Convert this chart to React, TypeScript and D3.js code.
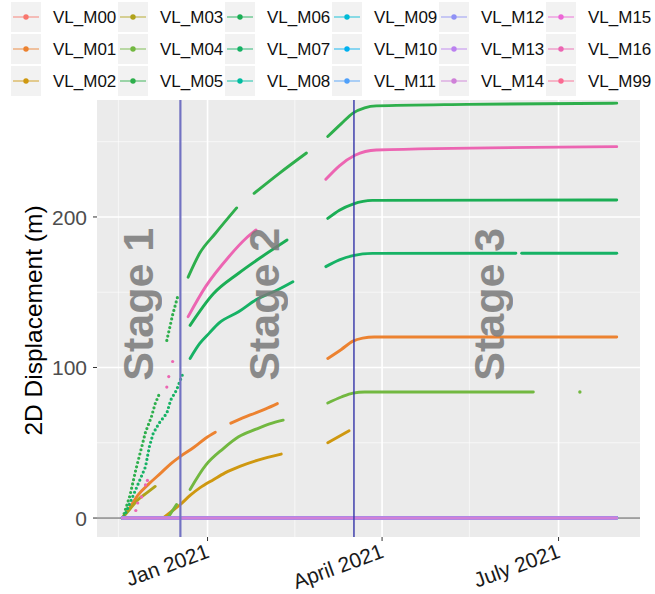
import React from "react";
import * as d3 from "d3";

type P = [string, number] | null;

// ---------- categories / labels ----------
const seriesNames = [
  "VL_M00", "VL_M01", "VL_M02", "VL_M03", "VL_M04", "VL_M05",
  "VL_M06", "VL_M07", "VL_M08", "VL_M09", "VL_M10", "VL_M11",
  "VL_M12", "VL_M13", "VL_M14", "VL_M15", "VL_M16", "VL_M99",
];
const seriesColors = [
  "#F8766D", "#EC8230", "#CF9810", "#B0A21A", "#72B840", "#2EAF4C",
  "#1BAE55", "#16B265", "#00BDA0", "#00BBD6", "#00B1F0", "#4FA0FA",
  "#8F91F5", "#BB80F0", "#CF80D8", "#EC66D6", "#EC65B2", "#FB6A92",
];
const xTickDates = ["2021-01-01", "2021-04-01", "2021-07-01"];
const xTickLabels = ["Jan 2021", "April 2021", "July 2021"];
const xMinorDates = ["2020-11-16", "2021-02-15", "2021-05-16"];
const yTicks = [0, 100, 200];
const yMinorTicks = [50, 150, 250];
const stageBoundaries = ["2020-12-18", "2021-03-17T12:00:00Z"];
const stageLabels = ["Stage 1", "Stage 2", "Stage 3"];
const stageLabelDates = ["2020-11-26", "2021-01-30", "2021-05-26"];
const stageLabelValue = 142;
const yTitle = "2D Displacement (m)";

// ---------- series values (null = gap) ----------
const vlM01: P[] = [
  ["2020-11-18", 0], ["2020-11-22", 7], ["2020-11-26", 15], ["2020-12-02", 23],
  ["2020-12-08", 30], ["2020-12-13", 36], ["2020-12-18", 41], ["2020-12-25", 47],
  ["2020-12-31", 53], ["2021-01-05", 57],
  null,
  ["2021-01-13", 63], ["2021-01-23", 68.5], ["2021-01-31", 72.5], ["2021-02-06", 76],
  null,
  ["2021-03-04", 106], ["2021-03-11", 112], ["2021-03-17", 117.5], ["2021-03-22", 119.5],
  ["2021-03-28", 120.3], ["2021-07-31", 120.3],
];
const vlM02: P[] = [
  ["2020-12-09", 0], ["2020-12-14", 5], ["2020-12-18", 9], ["2020-12-23", 15],
  ["2020-12-28", 20], ["2021-01-04", 25.5], ["2021-01-10", 30], ["2021-01-18", 34.5],
  ["2021-01-27", 38.5], ["2021-02-08", 42.5],
  null,
  ["2021-03-04", 50], ["2021-03-15", 58],
];
const vlM03: P[] = [
  ["2020-11-18", 0], ["2020-11-22", 6], ["2020-11-26", 12], ["2020-12-01", 17], ["2020-12-05", 21],
];
// curve levelling near 83
const vlM04: P[] = [
  ["2020-12-12", 1], ["2020-12-16", 9],
  null,
  ["2020-12-23", 19], ["2020-12-31", 35], ["2021-01-09", 46], ["2021-01-17", 54],
  ["2021-01-26", 59], ["2021-02-02", 62.5], ["2021-02-09", 65],
  null,
  ["2021-03-04", 76.4], ["2021-03-11", 80.4], ["2021-03-17", 83], ["2021-03-23", 83.7],
  ["2021-06-18", 83.7],
  null,
  ["2021-07-12", 83.7],
];
// top curve (Stage 1 steep part + later part)
const vlM05Early: P[] = [
  ["2020-11-19", 3], ["2020-11-22", 15], ["2020-11-25", 32], ["2020-11-28", 47],
  ["2020-11-30", 57], ["2020-12-03", 67], ["2020-12-05", 76], ["2020-12-07", 82],
  null,
  ["2020-12-11", 118], ["2020-12-14", 135], ["2020-12-17", 149],
];
const vlM05: P[] = [
  ["2020-12-22", 160], ["2020-12-28", 176], ["2021-01-05", 189], ["2021-01-16", 206],
  null,
  ["2021-01-25", 215.7], ["2021-02-07", 229], ["2021-02-21", 242.5],
  null,
  ["2021-03-04", 253.4], ["2021-03-11", 262], ["2021-03-17", 269], ["2021-03-23", 272.5],
  ["2021-03-29", 273.8], ["2021-05-15", 274.8], ["2021-07-31", 275.6],
];
// curve levelling near 210
const vlM06: P[] = [
  ["2020-12-23", 128], ["2021-01-04", 149], ["2021-01-17", 162.6], ["2021-01-29", 173.6],
  ["2021-02-11", 184.7],
  null,
  ["2021-03-04", 199], ["2021-03-10", 204.5], ["2021-03-17", 208.6], ["2021-03-27", 211],
  ["2021-07-31", 211.3],
];
// curve levelling near 175 (Stage 1 steep part + later part)
const vlM07Early: P[] = [
  ["2020-11-19", 1], ["2020-11-30", 34], ["2020-12-02", 47.4], ["2020-12-04", 56.3],
  ["2020-12-07", 63], ["2020-12-11", 69.6], ["2020-12-13", 78.4], ["2020-12-16", 85],
  ["2020-12-19", 95],
];
const vlM07: P[] = [
  ["2020-12-23", 106], ["2020-12-28", 116], ["2021-01-02", 123], ["2021-01-07", 129.6],
  ["2021-01-17", 137], ["2021-01-26", 145], ["2021-02-06", 151.5], ["2021-02-14", 157],
  null,
  ["2021-03-03", 167], ["2021-03-10", 171.5], ["2021-03-17", 174.3], ["2021-03-27", 175.8],
  ["2021-06-09", 175.9],
  null,
  ["2021-06-12", 175.9], ["2021-07-31", 175.9],
];
const vlM16Early: P[] = [
  ["2020-11-25", 5], ["2020-11-26", 10], ["2020-11-28", 14], ["2020-11-30", 22],
  ["2020-12-01", 25], ["2020-12-11", 87], ["2020-12-12", 94], ["2020-12-14", 104],
];
const vlM16: P[] = [
  ["2020-12-22", 133.8], ["2020-12-31", 153.7], ["2021-01-12", 173.6], ["2021-01-21", 186],
  ["2021-01-26", 191.4],
  null,
  ["2021-03-03", 225], ["2021-03-10", 234], ["2021-03-18", 241], ["2021-03-29", 244.5],
  ["2021-07-31", 246.7],
];
const zeroStations = ["VL_M00", "VL_M08", "VL_M09", "VL_M10", "VL_M11", "VL_M12", "VL_M13", "VL_M14"];
const zeroTrack: P[] = [["2020-11-18", 0], ["2021-07-31", 0]];

// tables built from the arrays above
const mainTracks: Record<string, P[]> = {
  VL_M01: vlM01, VL_M02: vlM02, VL_M03: vlM03, VL_M04: vlM04,
  VL_M05: vlM05, VL_M06: vlM06, VL_M07: vlM07, VL_M16: vlM16,
};
zeroStations.forEach((n) => (mainTracks[n] = zeroTrack));
const earlyTracks: Record<string, P[]> = { VL_M05: vlM05Early, VL_M07: vlM07Early };
const earlyDots: Record<string, P[]> = { VL_M16: vlM16Early };
const palette: Record<string, string> = {};
seriesNames.forEach((n, i) => (palette[n] = seriesColors[i]));

// ---------- helpers ----------
const parse = (s: string) => d3.isoParse(s.length === 10 ? s + "T00:00:00Z" : s) as Date;

function segments(pts: P[]): [Date, number][][] {
  const out: [Date, number][][] = [];
  let cur: [Date, number][] = [];
  for (const p of pts) {
    if (p === null) {
      if (cur.length) out.push(cur);
      cur = [];
    } else cur.push([parse(p[0]), p[1]]);
  }
  if (cur.length) out.push(cur);
  return out;
}

// ---------- layout ----------
const W = 655, H = 594;
const PL = 97, PR = 640, PT = 100, PB = 537;
const FONT = "'Liberation Sans', Arial, Helvetica, sans-serif";

const x = d3.scaleUtc().domain([parse("2020-11-05"), parse("2021-08-12")]).range([PL, PR]);
const y = d3.scaleLinear().domain([-12.6, 277.7]).range([PB, PT]);

const lineSmooth = d3.line<[Date, number]>().x((d) => x(d[0])).y((d) => y(d[1])).curve(d3.curveMonotoneX);
const lineStraight = d3.line<[Date, number]>().x((d) => x(d[0])).y((d) => y(d[1]));

export default function App() {
  const vlineStyles = [
    { stroke: "#7272C2", width: 2.2 },
    { stroke: "#3434A8", width: 1.4 },
  ];
  return (
    <svg width={W} height={H} style={{ position: "absolute", left: 0, top: 0, background: "#fff" }} fontFamily={FONT}>
      {/* legend */}
      {seriesNames.map((n, k) => {
        const col = Math.floor(k / 3), row = k % 3;
        const cx = 26 + 107 * col, cy = 17 + 32 * row;
        return (
          <g key={n}>
            <rect x={cx - 15} y={cy - 15} width={30} height={30} fill="#F2F2F2" />
            <line x1={cx - 13} x2={cx + 13} y1={cy} y2={cy} stroke={palette[n]} strokeWidth={1.6} opacity={0.55} />
            <circle cx={cx} cy={cy} r={2.7} fill={palette[n]} />
            <text x={cx + 27} y={cy} dy="0.36em" fontSize={17} fill="#111">{n}</text>
          </g>
        );
      })}

      {/* panel */}
      <rect x={PL} y={PT} width={PR - PL} height={PB - PT} fill="#EBEBEB" />
      {yMinorTicks.map((v) => (
        <line key={"ym" + v} x1={PL} x2={PR} y1={y(v)} y2={y(v)} stroke="#fff" strokeWidth={0.8} opacity={0.8} />
      ))}
      {xMinorDates.map((d) => (
        <line key={"xm" + d} x1={x(parse(d))} x2={x(parse(d))} y1={PT} y2={PB} stroke="#fff" strokeWidth={0.8} opacity={0.8} />
      ))}
      {yTicks.map((v) => (
        <line key={"yg" + v} x1={PL} x2={PR} y1={y(v)} y2={y(v)} stroke="#fff" strokeWidth={1.6} />
      ))}
      {xTickDates.map((d) => (
        <line key={"xg" + d} x1={x(parse(d))} x2={x(parse(d))} y1={PT} y2={PB} stroke="#fff" strokeWidth={1.6} />
      ))}

      {/* zero reference */}
      <line x1={PL} x2={PR} y1={y(0)} y2={y(0)} stroke="#4d4d4d" strokeWidth={1} />

      {/* series */}
      {seriesNames.map((n) => {
        const col = palette[n];
        const main = mainTracks[n] ? segments(mainTracks[n]) : [];
        const early = earlyTracks[n] ? segments(earlyTracks[n]) : [];
        const dots = earlyDots[n] ? segments(earlyDots[n]).flat() : [];
        return (
          <g key={"s" + n}>
            {early.map((seg, i) => (
              <path key={"e" + i} d={lineStraight(seg) || ""} fill="none" stroke={col} strokeWidth={3.2}
                strokeLinecap="round" strokeDasharray="0 4.4" />
            ))}
            {dots.map((p, i) => (
              <circle key={"d" + i} cx={x(p[0])} cy={y(p[1])} r={1.6} fill={col} />
            ))}
            {main.map((seg, i) =>
              seg.length > 1 ? (
                <path key={"m" + i} d={lineSmooth(seg) || ""} fill="none" stroke={col} strokeWidth={2.9}
                  strokeLinecap="round" strokeLinejoin="round" />
              ) : (
                <circle key={"m" + i} cx={x(seg[0][0])} cy={y(seg[0][1])} r={1.7} fill={col} />
              )
            )}
          </g>
        );
      })}

      {/* stage boundaries */}
      {stageBoundaries.map((d, i) => (
        <line key={"vb" + d} x1={x(parse(d))} x2={x(parse(d))} y1={PT} y2={PB}
          stroke={vlineStyles[i].stroke} strokeWidth={vlineStyles[i].width} />
      ))}

      {/* stage labels */}
      {stageLabels.map((s, i) => {
        const sx = x(parse(stageLabelDates[i])), sy = y(stageLabelValue);
        return (
          <text key={s} transform={`translate(${sx},${sy}) rotate(-90)`} textAnchor="middle"
            dominantBaseline="central" fontSize={43} fontWeight="bold" fill="#7a7a7a" opacity={0.85}>
            {s}
          </text>
        );
      })}

      {/* y axis */}
      {yTicks.map((v) => (
        <g key={"yt" + v}>
          <line x1={PL - 4} x2={PL} y1={y(v)} y2={y(v)} stroke="#333" strokeWidth={1} />
          <text x={PL - 10} y={y(v)} dy="0.36em" textAnchor="end" fontSize={21} fill="#4D4D4D">{v}</text>
        </g>
      ))}
      <text transform={`translate(42,${(PT + PB) / 2 + 2}) rotate(-90)`} textAnchor="middle" fontSize={24.5} fill="#000">
        {yTitle}
      </text>

      {/* x axis */}
      {xTickDates.map((d, i) => {
        const tx = x(parse(d));
        return (
          <g key={"xt" + d}>
            <line x1={tx} x2={tx} y1={PB} y2={PB + 4} stroke="#333" strokeWidth={1} />
            <text transform={`translate(${tx + 3},${PB + 20}) rotate(-20)`} textAnchor="end" fontSize={21} fill="#1a1a1a">
              {xTickLabels[i]}
            </text>
          </g>
        );
      })}
    </svg>
  );
}
